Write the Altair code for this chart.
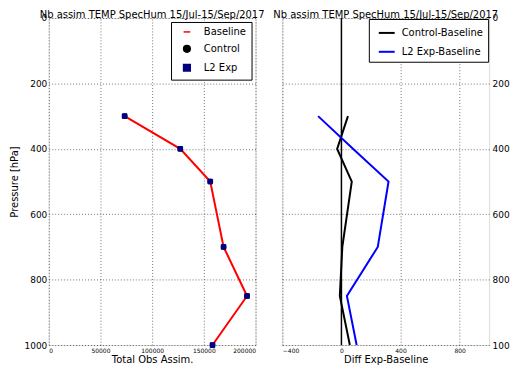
import altair as alt
import pandas as pd

# ---- data ----
levels = [300, 400, 500, 700, 850, 1000]
baseline = [73400, 127200, 156200, 169100, 191800, 158400]
control = [73400, 127200, 156200, 169100, 191800, 158400]
l2exp = [73400, 127200, 156200, 169100, 191800, 158400]
ctrl_minus_base = [44, -29, 70, 6, -11, 57]
l2_minus_base = [-158, 78, 319, 246, 37, 103]
zero_line = [0]

left_names = ["Baseline", "Control", "L2 Exp"]
right_names = ["Control-Baseline", "L2 Exp-Baseline"]
y_ticks = [0, 200, 400, 600, 800, 1000]
left_x_ticks = [0, 50000, 100000, 150000, 200000]
right_x_ticks = [-400, -200, 0, 200, 400, 600, 800, 1000]
title_text = "Nb assim TEMP SpecHum 15/Jul-15/Sep/2017"

left_df = pd.concat([
    pd.DataFrame({"p": levels, "v": baseline, "series": "Baseline"}),
    pd.DataFrame({"p": levels, "v": control, "series": "Control"}),
    pd.DataFrame({"p": levels, "v": l2exp, "series": "L2 Exp"}),
])
right_df = pd.concat([
    pd.DataFrame({"p": levels, "v": ctrl_minus_base, "series": "Control-Baseline"}),
    pd.DataFrame({"p": levels, "v": l2_minus_base, "series": "L2 Exp-Baseline"}),
])
zero_df = pd.DataFrame({"v": zero_line})

W, H = 208, 329
FONT = "DejaVu Sans"

yscale = alt.Scale(domain=[0, 1000], reverse=True, nice=False, zero=False)
grid_kw = dict(grid=True, gridDash=[1, 2], gridColor="#000000", gridOpacity=0.55,
               ticks=False, domain=False)

left_color = alt.Scale(domain=left_names, range=["#ff0000", "#000000", "#000080"])
left_shape = alt.Scale(domain=left_names, range=["stroke", "circle", "square"])

legend_left = alt.Legend(
    title=None, orient="top-right", offset=4, padding=5, rowPadding=5,
    strokeColor="#000000", fillColor="#ffffff", cornerRadius=0,
    labelFont=FONT, labelFontSize=10, labelColor="#000000", symbolSize=45,
    symbolStrokeWidth=1.5, symbolOpacity=1, labelOffset=12, symbolOffset=6,
)

xl = alt.X("v:Q", title="Total Obs Assim.",
           scale=alt.Scale(domain=[0, 200000], nice=False),
           axis=alt.Axis(values=left_x_ticks, format="d", labelFontSize=6, labelFont=FONT,
                         titleFont=FONT, titleFontSize=10, titleFontWeight="normal",
                         labelColor="#000000", titleColor="#000000", titlePadding=2,
                         labelPadding=2, **grid_kw))
yl = alt.Y("p:Q", title="Pressure [hPa]", scale=yscale,
           axis=alt.Axis(values=y_ticks, orient="left", format="d", labelFontSize=9,
                         labelFont=FONT, titleFont=FONT, titleFontSize=10,
                         titleFontWeight="normal", labelColor="#000000",
                         titleColor="#000000", labelPadding=2, titlePadding=5, **grid_kw))

base_left = alt.Chart(left_df)
left_line = base_left.transform_filter("datum.series === 'Baseline'").mark_line(
    strokeWidth=2).encode(
    x=xl, y=yl, order=alt.Order("p:Q"),
    color=alt.Color("series:N", scale=left_color, legend=legend_left),
)
left_pts = base_left.transform_filter("datum.series !== 'Baseline'").mark_point(
    filled=False, size=22, opacity=1, strokeWidth=1).encode(
    x=xl, y=yl,
    color=alt.Color("series:N", scale=left_color, legend=legend_left),
    fill=alt.Fill("series:N", scale=left_color, legend=legend_left),
    shape=alt.Shape("series:N", scale=left_shape, legend=legend_left),
)
left = alt.layer(left_line, left_pts).properties(
    width=W, height=H,
    title=alt.TitleParams(title_text, font=FONT, fontSize=10, fontWeight="normal",
                          color="#000000", offset=-6, anchor="middle"))

xr = alt.X("v:Q", title="Diff Exp-Baseline",
           scale=alt.Scale(domain=[-400, 1000], nice=False),
           axis=alt.Axis(values=right_x_ticks, labelFontSize=6, labelFont=FONT,
                         titleFont=FONT, titleFontSize=10, titleFontWeight="normal",
                         labelColor="#000000", titleColor="#000000", titlePadding=2,
                         labelPadding=2, **grid_kw))
yr = alt.Y("p:Q", title=None, scale=yscale,
           axis=alt.Axis(values=y_ticks, orient="right", format="d", labelFontSize=9,
                         labelFont=FONT, labelColor="#000000", labelPadding=3, **grid_kw))

right_rule = alt.Chart(zero_df).mark_rule(color="#000000", strokeWidth=1.5).encode(
    x=alt.X("v:Q", scale=alt.Scale(domain=[-400, 1000], nice=False)))
right_lines = alt.Chart(right_df).mark_line(strokeWidth=2).encode(
    x=xr, y=yr, order=alt.Order("p:Q"),
    color=alt.Color("series:N",
                    scale=alt.Scale(domain=right_names, range=["#000000", "#0000ff"]),
                    legend=alt.Legend(title=None, orient="top-right", offset=1, padding=5,
                                      rowPadding=5, strokeColor="#000000",
                                      fillColor="#ffffff", cornerRadius=0,
                                      labelFont=FONT, labelFontSize=10,
                                      labelColor="#000000", symbolStrokeWidth=2,
                                      symbolSize=256, symbolType="stroke",
                                      symbolOffset=4, labelOffset=6)),
)
right = alt.layer(right_rule, right_lines).properties(
    width=W, height=H,
    title=alt.TitleParams(title_text, font=FONT, fontSize=10, fontWeight="normal",
                          color="#000000", offset=-6, anchor="middle"))

chart = alt.hconcat(left, right, spacing=27, bounds="flush").resolve_scale(
    color="independent", shape="independent", fill="independent",
    x="independent", y="independent"
).properties(padding={"left": 0, "top": 0, "right": -6, "bottom": -2}).configure_view(
    stroke="#000000", strokeWidth=1.2
).configure(background="#ffffff")

chart.save("out.html", embed_options={"renderer": "svg", "actions": False})
